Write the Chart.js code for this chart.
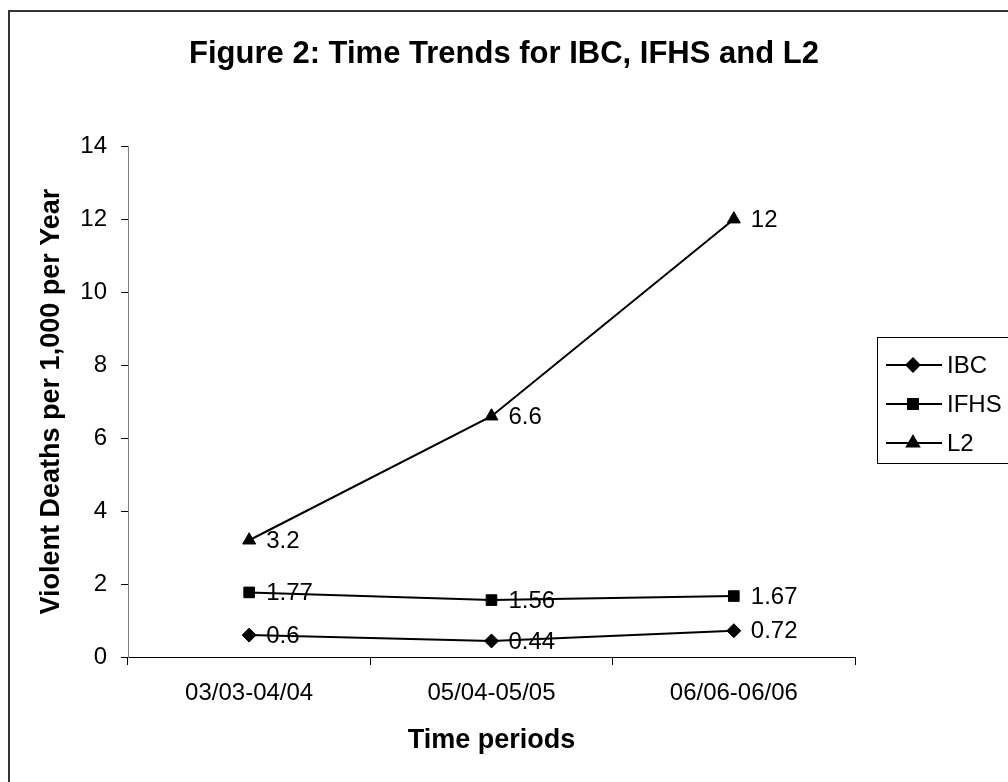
<!DOCTYPE html>
<html>
<head>
<meta charset="utf-8">
<title>Figure 2: Time Trends for IBC, IFHS and L2</title>
<script src="https://cdn.jsdelivr.net/npm/chart.js@4/dist/chart.umd.min.js"></script>
<style>
  html, body { margin: 0; padding: 0; background: #fff; }
  #wrap { width: 1008px; height: 782px; }
</style>
</head>
<body>
<div id="wrap"><canvas id="trendChart" width="1008" height="782"></canvas></div>
<script>
// data
const periods = ["03/03-04/04", "05/04-05/05", "06/06-06/06"];
const ibcValues = [0.6, 0.44, 0.72];
const ifhsValues = [1.77, 1.56, 1.67];
const l2Values = [3.2, 6.6, 12];
const seriesNames = ["IBC", "IFHS", "L2"];
const yTickValues = [0, 2, 4, 6, 8, 10, 12, 14];

const FONT = "'Liberation Sans', Arial, sans-serif";

// outer frame (only top and left edges are inside the picture)
const framePlugin = {
  id: "frame",
  afterLayout(chart) {
    // centre the title over the whole picture, not just the plot + padding
    const t = chart.titleBlock;
    if (t) { t.left = 0; t.right = chart.width; t.width = chart.width; }
  },
  beforeDraw(chart) {
    const ctx = chart.ctx;
    ctx.save();
    ctx.fillStyle = "#fff";
    ctx.fillRect(0, 0, chart.width, chart.height);
    ctx.strokeStyle = "#333";
    ctx.lineWidth = 2;
    ctx.strokeRect(9, 11, chart.width + 20, chart.height + 20);
    ctx.restore();
  }
};

// value labels to the right of each point
const valueLabels = {
  id: "valueLabels",
  afterDatasetsDraw(chart) {
    const ctx = chart.ctx;
    ctx.save();
    ctx.font = "24px " + FONT;
    ctx.fillStyle = "#000";
    ctx.textAlign = "left";
    ctx.textBaseline = "middle";
    chart.data.datasets.forEach((ds, i) => {
      chart.getDatasetMeta(i).data.forEach((pt, j) => {
        ctx.fillText(String(ds.data[j]), pt.x + 17, pt.y + 1);
      });
    });
    ctx.restore();
  }
};

// Excel style legend: line through marker, box on the right
const sideLegend = {
  id: "sideLegend",
  afterDraw(chart) {
    const ctx = chart.ctx;
    const left = 877, top = 337, bottom = 463;
    ctx.save();
    ctx.strokeStyle = "#000";
    ctx.lineWidth = 1;
    ctx.strokeRect(left + 0.5, top + 0.5, chart.width, bottom - top);
    ctx.font = "24px " + FONT;
    ctx.textBaseline = "middle";
    ctx.fillStyle = "#000";
    chart.data.datasets.forEach((ds, i) => {
      const y = 365 + i * 39;
      ctx.beginPath();
      ctx.moveTo(886, y);
      ctx.lineTo(942, y);
      ctx.lineWidth = 2;
      ctx.stroke();
      Chart.helpers.drawPoint(ctx, {
        pointStyle: ds.pointStyle,
        radius: ds.pointRadius - 0.5,
        borderWidth: 1
      }, 913, y);
      ctx.fillText(ds.label, 947, y + 1);
    });
    ctx.restore();
  }
};

function makeSeries(name, values, style, radius) {
  return {
    label: name,
    data: values,
    borderColor: "#000",
    backgroundColor: "#000",
    borderWidth: 2,
    pointStyle: style,
    pointRadius: radius,
    pointBorderWidth: 1,
    pointBackgroundColor: "#000",
    pointBorderColor: "#000",
    tension: 0
  };
}

new Chart(document.getElementById("trendChart"), {
  type: "line",
  data: {
    labels: periods,
    datasets: [
      makeSeries(seriesNames[0], ibcValues, "rectRot", 7),
      makeSeries(seriesNames[1], ifhsValues, "rect", 7.5),
      makeSeries(seriesNames[2], l2Values, "triangle", 7.5)
    ]
  },
  options: {
    responsive: false,
    animation: false,
    devicePixelRatio: 1,
    layout: { padding: { left: 0, right: 1008 - 855, top: 0, bottom: 0 } },
    plugins: {
      legend: { display: false },
      tooltip: { enabled: false },
      title: {
        display: true,
        text: "Figure 2: Time Trends for IBC, IFHS and L2",
        color: "#000",
        font: { family: FONT, size: 31, weight: "bold", lineHeight: 1.2 },
        padding: { top: 36, bottom: 73 }
      }
    },
    scales: {
      x: {
        offset: true,
        grid: {
          offset: true,
          drawOnChartArea: false,
          drawTicks: true,
          tickLength: 8,
          color: "#000"
        },
        border: { display: true, color: "#000", width: 1 },
        ticks: {
          color: "#000",
          padding: 14,
          maxRotation: 0,
          font: { family: FONT, size: 24 }
        },
        title: {
          display: true,
          text: "Time periods",
          color: "#000",
          font: { family: FONT, size: 27, weight: "bold" },
          padding: { top: 0, bottom: 25 }
        },
        afterFit(scale) { scale.height = 782 - 657; }
      },
      y: {
        min: 0,
        max: 14,
        afterBuildTicks(scale) {
          scale.ticks = yTickValues.map(v => ({ value: v }));
        },
        grid: {
          drawOnChartArea: false,
          drawTicks: true,
          tickLength: 7,
          color: "#000"
        },
        border: { display: true, color: "#808080", width: 1 },
        ticks: {
          color: "#000",
          padding: 14,
          font: { family: FONT, size: 24 }
        },
        title: {
          display: true,
          text: "Violent Deaths per 1,000 per Year",
          color: "#000",
          font: { family: FONT, size: 27, weight: "bold" },
          padding: { top: 35, bottom: 0 }
        },
        afterFit(scale) { scale.width = 128; }
      }
    }
  },
  plugins: [framePlugin, valueLabels, sideLegend]
});
</script>
</body>
</html>
